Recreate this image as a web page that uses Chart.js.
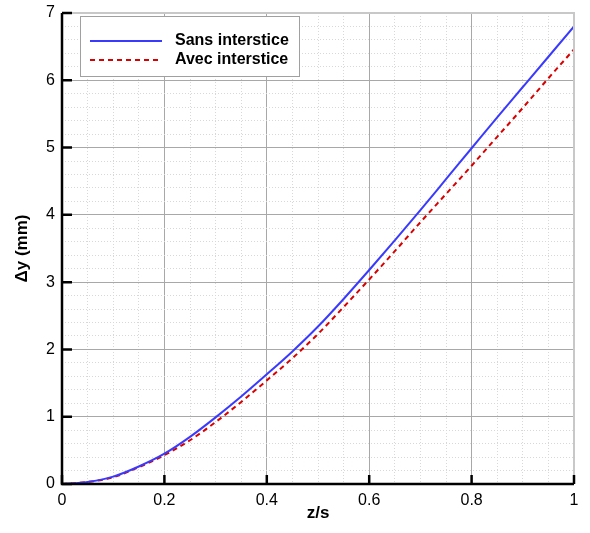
<!DOCTYPE html>
<html>
<head>
<meta charset="utf-8">
<script src="https://cdn.jsdelivr.net/npm/chart.js@4.4.0/dist/chart.umd.min.js"></script>
<style>
  html, body { margin: 0; padding: 0; background: #fff; }
  #wrap { width: 590px; height: 533px; position: relative; }
</style>
</head>
<body>
<div id="wrap"><canvas id="graphe"></canvas></div>
<script>
// abscisse z/s
const zValues = [0, 0.05, 0.1, 0.15, 0.2, 0.25, 0.3, 0.35, 0.4, 0.45, 0.5, 0.55, 0.6, 0.65, 0.7, 0.75, 0.8, 0.85, 0.9, 0.95, 1.0];
// deplacement (mm)
const sansInterstice = [0, 0.03, 0.11, 0.26, 0.45, 0.70, 0.99, 1.30, 1.63, 1.97, 2.34, 2.75, 3.18, 3.62, 4.07, 4.53, 4.99, 5.45, 5.9, 6.35, 6.8];
const avecInterstice = [0, 0.03, 0.1, 0.25, 0.43, 0.65, 0.92, 1.22, 1.54, 1.87, 2.23, 2.63, 3.04, 3.46, 3.89, 4.31, 4.73, 5.16, 5.59, 6.03, 6.46];
const xMajorTicks = [0, 0.2, 0.4, 0.6, 0.8, 1];
const yMajorTicks = [0, 1, 2, 3, 4, 5, 6, 7];

const police = "'Liberation Sans', Arial, Helvetica, sans-serif";

function estMajeurX(v) { return Math.round(v * 100) % 20 === 0; }
function estMajeurY(v) { return Math.abs(v - Math.round(v)) < 1e-6; }

// cadre, graduations internes et legende
const decor = {
  id: 'decor',
  afterDraw(chart) {
    const ctx = chart.ctx;
    const a = chart.chartArea;
    const sx = chart.scales.x, sy = chart.scales.y;
    ctx.save();
    // bordure haut / droite
    ctx.strokeStyle = '#c8c8c8';
    ctx.lineWidth = 2;
    ctx.beginPath();
    ctx.moveTo(a.left, a.top); ctx.lineTo(a.right, a.top); ctx.lineTo(a.right, a.bottom);
    ctx.stroke();
    // axes gauche / bas
    ctx.strokeStyle = '#000';
    ctx.lineWidth = 2.5;
    ctx.beginPath();
    ctx.moveTo(a.left, a.top); ctx.lineTo(a.left, a.bottom); ctx.lineTo(a.right, a.bottom);
    ctx.stroke();
    // graduations majeures
    ctx.lineWidth = 2.5;
    ctx.beginPath();
    yMajorTicks.forEach(v => {
      const y = sy.getPixelForValue(v);
      ctx.moveTo(a.left, y); ctx.lineTo(a.left + 10, y);
    });
    xMajorTicks.forEach(v => {
      const x = sx.getPixelForValue(v);
      ctx.moveTo(x, a.bottom); ctx.lineTo(x, a.bottom - 9);
    });
    ctx.stroke();

    // legende
    const bx = a.left + 18, by = a.top + 3, bw = 219, bh = 60;
    ctx.fillStyle = '#fff';
    ctx.fillRect(bx, by, bw, bh);
    ctx.strokeStyle = '#a0a0a0';
    ctx.lineWidth = 1;
    ctx.strokeRect(bx + 0.5, by + 0.5, bw, bh);
    ctx.font = 'bold 16px ' + police;
    ctx.textBaseline = 'middle';
    ctx.textAlign = 'left';
    chart.data.datasets.forEach((ds, i) => {
      const y = by + 25 + i * 19;
      ctx.strokeStyle = ds.borderColor;
      ctx.lineWidth = ds.borderWidth;
      ctx.setLineDash(ds.borderDash || []);
      ctx.beginPath();
      ctx.moveTo(bx + 10, y); ctx.lineTo(bx + 82, y);
      ctx.stroke();
      ctx.setLineDash([]);
      ctx.fillStyle = '#000';
      ctx.fillText(ds.label, bx + 95, y);
    });
    ctx.restore();
  }
};

const ctx = document.getElementById('graphe').getContext('2d');
const graphe = new Chart(ctx, {
  type: 'line',
  data: {
    labels: zValues,
    datasets: [
      {
        label: 'Sans interstice',
        data: zValues.map((z, i) => ({ x: z, y: sansInterstice[i] })),
        borderColor: '#3a3aff',
        borderWidth: 2,
        pointRadius: 0,
        cubicInterpolationMode: 'monotone',
        fill: false
      },
      {
        label: 'Avec interstice',
        data: zValues.map((z, i) => ({ x: z, y: avecInterstice[i] })),
        borderColor: '#d80000',
        borderWidth: 2,
        borderDash: [5, 4],
        pointRadius: 0,
        cubicInterpolationMode: 'monotone',
        fill: false
      }
    ]
  },
  options: {
    responsive: true,
    maintainAspectRatio: false,
    animation: false,
    layout: { padding: { left: 0, top: 13, right: 16, bottom: 0 } },
    plugins: {
      legend: { display: false },
      tooltip: { enabled: false }
    },
    scales: {
      x: {
        type: 'linear',
        min: 0,
        max: 1,
        afterFit: s => { s.height = 49; s.paddingLeft = 0; s.paddingRight = 0; },
        afterBuildTicks: s => {
          s.ticks = [];
          for (let k = 0; k <= 20; k++) s.ticks.push({ value: k * 0.05 });
        },
        grid: {
          drawTicks: false,
          color: c => (c.tick && estMajeurX(c.tick.value)) ? '#a8a8a8' : '#d8d8d8',
          lineWidth: 1
        },
        border: {
          display: false,
          dash: c => (c.type === 'tick' && !estMajeurX(c.tick.value)) ? [1, 2] : []
        },
        ticks: {
          autoSkip: false,
          maxRotation: 0,
          padding: 7,
          color: '#000',
          font: { family: police, size: 16 },
          callback: v => estMajeurX(v) ? String(Math.round(v * 10) / 10) : ''
        },
        title: {
          display: true,
          text: 'z/s',
          color: '#000',
          font: { family: police, size: 17, weight: 'bold' },
          padding: { top: 0, bottom: 9 }
        }
      },
      y: {
        type: 'linear',
        min: 0,
        max: 7,
        afterFit: s => { s.width = 62; s.paddingTop = 0; s.paddingBottom = 0; },
        afterBuildTicks: s => {
          s.ticks = [];
          for (let k = 0; k <= 35; k++) s.ticks.push({ value: k * 0.2 });
        },
        grid: {
          drawTicks: false,
          color: c => (c.tick && estMajeurY(c.tick.value)) ? '#a8a8a8' : '#d8d8d8',
          lineWidth: 1
        },
        border: {
          display: false,
          dash: c => (c.type === 'tick' && !estMajeurY(c.tick.value)) ? [1, 2] : []
        },
        ticks: {
          autoSkip: false,
          padding: 7,
          color: '#000',
          font: { family: police, size: 16 },
          callback: v => estMajeurY(v) ? String(Math.round(v)) : ''
        },
        title: {
          display: true,
          text: 'Δy (mm)',
          color: '#000',
          font: { family: police, size: 17, weight: 'bold' },
          padding: { top: 12, bottom: 0 }
        }
      }
    }
  },
  plugins: [decor]
});
</script>
</body>
</html>
